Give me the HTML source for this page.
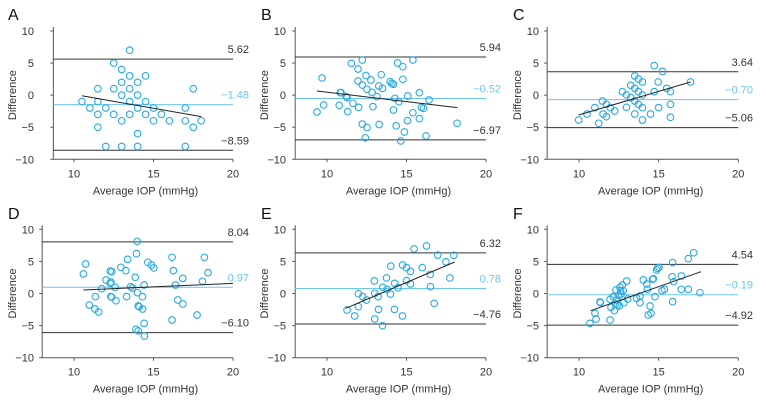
<!DOCTYPE html>
<html><head><meta charset="utf-8"><style>
body{margin:0;background:#fff;}
svg{display:block;font-family:"Liberation Sans",sans-serif;}
</style></head><body>
<svg id="chart" width="760" height="401" viewBox="0 0 760 401"></svg>
<script>
const panelLetters=["A","B","C","D","E","F"];
const upperLoA=[5.62,5.94,3.64,8.04,6.32,4.54];
const meanDiff=[-1.48,-0.52,-0.70,0.97,0.78,-0.19];
const lowerLoA=[-8.59,-6.97,-5.06,-6.10,-4.76,-4.92];
const refLabels=[["5.62","\u22121.48","\u22128.59"],["5.94","\u22120.52","\u22126.97"],["3.64","\u22120.70","\u22125.06"],["8.04","0.97","\u22126.10"],["6.32","0.78","\u22124.76"],["4.54","\u22120.19","\u22124.92"]];
const regLines=[[10.5,-0.1,18,-3.35],[9.37,0.65,18.2,-1.95],[9.98,-3.09,17,2.05],[10.59,0.55,20,1.58],[11.18,-2.31,18.03,4.91],[10.73,-2.68,17.66,3.4]];
const xMins=[8.7,8,8,8,8,8];
const xTicks=[10,15,20];
const yTicks=[10,5,0,-5,-10];
const yTickLabels=["10","5","0","\u22125","\u221210"];
const ptsA=[[10.5,-1],[11,-2],[11.5,1],[11.5,-1],[11.5,-3],[11.5,-5],[12,-2],[12,-8],[12.5,5],[12.5,1],[12.5,-3],[13.5,7],[13,4],[13,2],[13,0],[13,-4],[13,-8],[13.5,3],[13.5,1],[13.5,-1],[13.5,-3],[14,2],[14,0],[14,-2],[14,-6],[14,-8],[14.5,3],[14.5,-1],[14.5,-3],[15,-2],[15,-4],[15.5,-3],[16,-4],[17,-2],[17,-4],[17,-8],[17.5,1],[17.5,-5],[18,-4]];
const ptsB=[[9.37,-2.62],[9.69,2.68],[9.79,-1.53],[10.77,-1.58],[10.84,0.39],[10.88,0.39],[11.21,-0.23],[11.26,-0.39],[11.3,-2.57],[11.53,4.96],[11.63,-1.27],[11.95,4.08],[11.95,2.21],[11.99,-1.9],[12.22,5.48],[12.22,1.58],[12.22,-4.52],[12.45,3.06],[12.51,0.91],[12.51,-5.04],[12.41,-6.65],[12.76,2.36],[12.84,0.44],[12.89,-1.79],[13.14,-0.23],[13.26,1.43],[13.28,-4.57],[13.41,3.19],[13.49,1.06],[13.97,2.1],[14.08,1.84],[14.18,1.69],[14.18,-2.31],[14.27,-0.49],[14.35,-4.78],[14.44,5.01],[14.52,-1.01],[14.77,4.44],[14.77,2.47],[14.87,-5.74],[15.08,-0.13],[15.06,-3.97],[15.4,5.48],[15.4,-2.73],[15.81,0.39],[15.81,-3.66],[15.94,-1.9],[16.07,-2.05],[16.23,-6.36],[16.42,-0.75],[18.18,-4.39],[14.64,-7.14]];
const ptsC=[[9.98,-3.87],[10.5,-2.94],[10.99,-1.95],[11.24,-4.39],[11.47,-0.91],[11.51,-2.94],[11.72,-3.35],[11.72,-1.43],[11.97,-1.95],[12.24,-2.47],[12.72,0.55],[12.98,0.03],[12.98,-1.9],[13.25,1.53],[13.25,-0.39],[13.5,2.99],[13.5,1.06],[13.5,-2.94],[13.5,-0.91],[13.73,2.52],[13.73,0.55],[13.73,-1.43],[13.98,2.05],[13.98,0.03],[13.98,-1.95],[13.98,-3.87],[14.49,-2.94],[14.72,4.6],[14.72,0.55],[14.97,2.05],[15,-1.95],[15.25,3.69],[15.5,1.06],[15.74,0.55],[15.74,-1.43],[15.74,-3.45],[17,2.05]];
const ptsD=[[10.59,3.04],[10.73,4.6],[10.96,-1.79],[11.34,-0.49],[11.32,-2.42],[11.55,-2.88],[11.74,0.75],[12.01,2.1],[12.28,3.48],[12.32,1.79],[12.28,1.58],[12.32,-0.49],[12.36,-0.55],[12.38,3.4],[12.59,0.96],[12.64,-1.12],[12.95,4.08],[13.26,3.56],[13.37,5.32],[13.31,-0.49],[13.56,1.06],[13.68,0.86],[13.85,2.52],[13.89,-5.56],[13.93,6.21],[13.97,8.13],[13.99,0.13],[14.04,-1.95],[14.1,-2.05],[14.04,-5.82],[14.31,-0.49],[14.31,-2.42],[14.41,1.32],[14.41,-4.65],[14.43,-6.62],[14.64,4.86],[14.87,4.44],[15.02,3.98],[16.17,5.64],[16.17,-4.13],[16.25,3.56],[16.38,1.32],[16.53,-1.01],[16.84,2.36],[16.84,-1.64],[17.74,-3.35],[18.08,1.9],[18.2,5.64],[18.43,3.25]];
const ptsE=[[11.26,-2.57],[11.74,-3.51],[11.97,-0.03],[11.97,-2.05],[12.25,-0.49],[12.48,-1.01],[12.98,1.97],[13,0.03],[13,-3.97],[13.21,-0.49],[13.24,-2.47],[13.49,-5.01],[13.51,0.96],[13.74,2.42],[13.78,0.65],[14.01,4.26],[13.99,-0.08],[14.26,1.58],[14.24,-2.47],[14.47,0.91],[14.75,4.44],[14.75,-3.51],[15,4.03],[15,2],[15.25,3.45],[15.25,1.48],[15.48,6.96],[15.99,4.03],[16.26,7.4],[16.49,2.97],[16.51,1.06],[16.74,-1.53],[16.97,5.98],[17.48,4.94],[17.73,2.42],[17.98,5.95]];
const ptsF=[[10.69,-4.65],[11,-3.09],[11.07,-3.97],[11.32,-1.32],[11.34,-1.43],[11.95,-0.91],[11.95,-4.13],[12.01,-2.16],[12.15,-0.49],[12.22,-2.68],[12.28,-1.64],[12.32,0.55],[12.36,-1.01],[12.41,-1.79],[12.49,-0.29],[12.53,-1.95],[12.57,0.96],[12.62,0.44],[12.64,-0.08],[12.72,1.32],[12.78,0.44],[12.82,-1.43],[12.99,1.95],[13.05,-0.86],[13.62,-0.75],[13.83,-1.43],[13.83,-0.39],[14.04,2.1],[14.25,1.48],[14.29,0.65],[14.35,-3.35],[14.46,-1.95],[14.52,-3.09],[14.62,2.21],[14.67,2.31],[14.77,-0.49],[14.87,3.66],[14.94,3.92],[15.02,4.08],[15.21,0.44],[15.36,0.65],[15.84,2.62],[15.88,-1.27],[15.88,4.81],[15.94,1.84],[16.42,2.73],[16.42,0.65],[16.86,5.43],[16.86,0.65],[17.2,6.36],[17.59,0.13]];
const allPoints=[ptsA,ptsB,ptsC,ptsD,ptsE,ptsF];

const svg=document.getElementById('chart');
const NS='http://www.w3.org/2000/svg';
function mk(tag,attrs,parent,text){const e=document.createElementNS(NS,tag);for(const k in attrs)e.setAttribute(k,attrs[k]);if(text!==undefined)e.textContent=text;parent.appendChild(e);return e;}
const colX10=[74,327,579],colX20=[233,486,738.3],colTitle=[12,264,517],colLetter=[8,261,513],colLabelRight=[249,501,753];
const rowY10=[31,229.3],rowYm10=[159.3,357.7];
const blue='#29abe2',meanBlue='#6cc6ee',dark='#333';
for(let p=0;p<6;p++){
  const c=p%3,r=Math.floor(p/3);
  const x10=colX10[c],x20=colX20[c],y10=rowY10[r],ym10=rowYm10[r];
  const sx=v=>x10+(v-10)*(x20-x10)/10;
  const sy=v=>ym10+(v+10)*(y10-ym10)/20;
  const g=mk('g',{},svg);
  
  
  const left=sx(xMins[p]);
  const lt=mk('text',{x:colLetter[c],y:r?219:20,'font-size':16,fill:'#111'},g,panelLetters[p]);
  
  
  // axes
  const ya=mk('line',{x1:left,y1:y10-4,x2:left,y2:ym10,stroke:'#555','stroke-width':1},g);
  
  
  const xa=mk('line',{x1:left,y1:ym10,x2:x20,y2:ym10,stroke:'#555','stroke-width':1},g);
  
  
  yTicks.forEach((t,i)=>{
    mk('line',{x1:left-3,y1:sy(t),x2:left,y2:sy(t),stroke:'#555'},g);
    const tl=mk('text',{x:colTitle[c]+22,y:sy(t)+4,'font-size':11,fill:dark,'text-anchor':'end'},g,yTickLabels[i]);
    
    
  });
  xTicks.forEach(t=>{
    mk('line',{x1:sx(t),y1:ym10,x2:sx(t),y2:ym10+3,stroke:'#555'},g);
    const tl=mk('text',{x:sx(t),y:ym10+18,'font-size':11,fill:dark,'text-anchor':'middle'},g,String(t));
    
    
  });
  const yt=mk('text',{x:0,y:0,'font-size':11,fill:dark,'text-anchor':'middle',transform:`translate(${colTitle[c]+4},${sy(0)}) rotate(-90)`},g,'Difference');
  
  
  const xt=mk('text',{x:(sx(10)+x20)/2-8,y:ym10+35,'font-size':11,fill:dark,'text-anchor':'middle'},g,'Average IOP (mmHg)');
  
  
  // reference lines
  const refs=[upperLoA[p],meanDiff[p],lowerLoA[p]];
  const names=['upper-loa','mean-difference','lower-loa'];
  refs.forEach((v,i)=>{
    const col=i===1?meanBlue:dark;
    const ln=mk('line',{x1:left,y1:sy(v),x2:x20,y2:sy(v),stroke:col,'stroke-width':1},g);
    
    
    const tx=mk('text',{x:colLabelRight[c],y:sy(v)-6,'font-size':11,fill:col,'text-anchor':'end'},g,refLabels[p][i]);
    
    
  });
  // points
  allPoints[p].forEach(pt=>{
    const ci=mk('circle',{cx:sx(pt[0]),cy:sy(pt[1]),r:3.3,fill:'none',stroke:blue,'stroke-width':1.1},g);
    
    
  });
  const rl=regLines[p];
  const reg=mk('line',{x1:sx(rl[0]),y1:sy(rl[1]),x2:sx(rl[2]),y2:sy(rl[3]),stroke:'#222','stroke-width':1},g);
  
  
}
</script>
</body></html>
